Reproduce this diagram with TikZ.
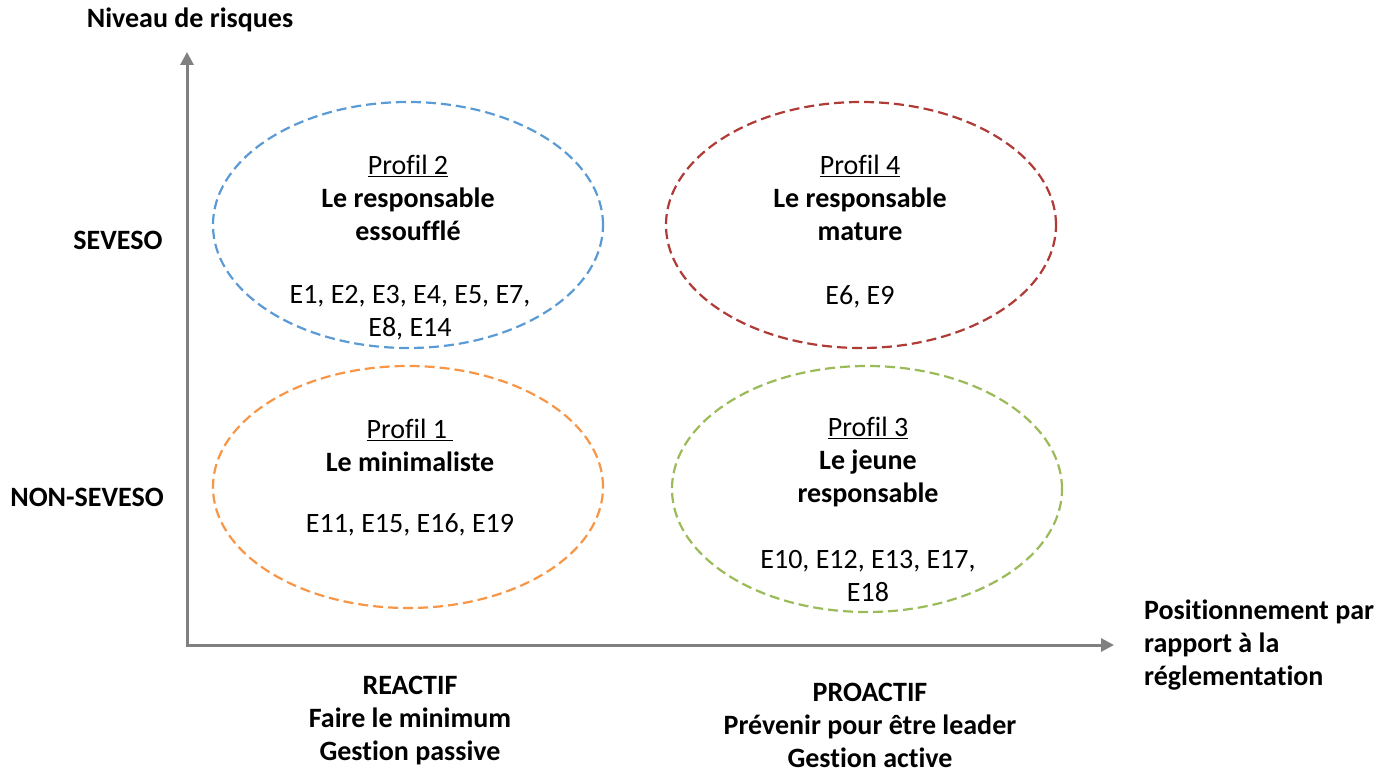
\documentclass[tikz,border=0pt]{standalone}
\usepackage{fontspec}
\setmainfont[Ligatures=NoCommon]{Carlito}
\usetikzlibrary{shapes.geometric,arrows.meta}
\definecolor{axisgray}{RGB}{128,128,128}
\definecolor{pblue}{RGB}{91,155,213}
\definecolor{pred}{RGB}{176,58,54}
\definecolor{porange}{RGB}{247,150,70}
\definecolor{pgreen}{RGB}{155,187,89}
\tikzset{
  prof/.style={ellipse, draw, line width=2.2pt, dash pattern=on 10pt off 5pt, minimum width=390pt, minimum height=246pt, inner sep=0pt},
  txt/.style={align=center, inner sep=0pt, font=\fontsize{28}{33}\selectfont},
  btxt/.style={txt, font=\fontsize{28}{33}\selectfont\bfseries},
  axis/.style={draw=axisgray, line width=3pt, -{Triangle[width=13pt,length=13pt]}}
}
\begin{document}
\begin{tikzpicture}[x=1pt,y=-1pt]
\useasboundingbox (0,0) rectangle (1392,773);
% axes
\coordinate (O) at (187,645);
\coordinate (ytop) at (187,52);
\coordinate (xend) at (1114,645);
\draw[axis] (O) -- (ytop);
\draw[axis] ([xshift=-1.5pt]O) -- (xend);
% axis labels
\node[btxt] (ylab) at (190,20) {Niveau de risques};
\node[btxt, align=left, anchor=west] (xlab) at (1144,645) {Positionnement par\\rapport à la\\réglementation};
\node[btxt] (seveso) at (118,240) {SEVESO};
\node[btxt] (nonseveso) at (87,497) {NON-SEVESO};
\node[btxt] (react) at (410,721) {REACTIF\\Faire le minimum\\Gestion passive};
\node[btxt] (proact) at (870,725) {PROACTIF\\Prévenir pour être leader\\Gestion active};
% ellipses
\node[prof, draw=pblue] (p2) at (408,225) {};
\node[prof, draw=pred] (p4) at (861,225) {};
\node[prof, draw=porange, minimum height=242pt] (p1) at (408,487) {};
\node[prof, draw=pgreen] (p3) at (867,489) {};
% texts
\node[txt] (p2a) at (408,198) {\underline{Profil 2}\\\textbf{Le responsable}\\\textbf{essoufflé}};
\node[txt] (p2b) at (410,313) {E1, E2, E3, E4, E5, E7,\\E8, E14};
\node[txt] (p4a) at (860,198) {\underline{Profil 4}\\\textbf{Le responsable}\\\textbf{mature}};
\node[txt] (p4b) at (860,297) {E6, E9};
\node[txt] (p1a) at (410,445) {\underline{Profil 1\ }\\\textbf{Le minimaliste}};
\node[txt] (p1b) at (410,525) {E11, E15, E16, E19};
\node[txt] (p3a) at (868,462) {\underline{Profil 3}\\\textbf{Le jeune}\\\textbf{responsable}};
\node[txt] (p3b) at (868,576) {E10, E12, E13, E17,\\E18};
\end{tikzpicture}
\end{document}
